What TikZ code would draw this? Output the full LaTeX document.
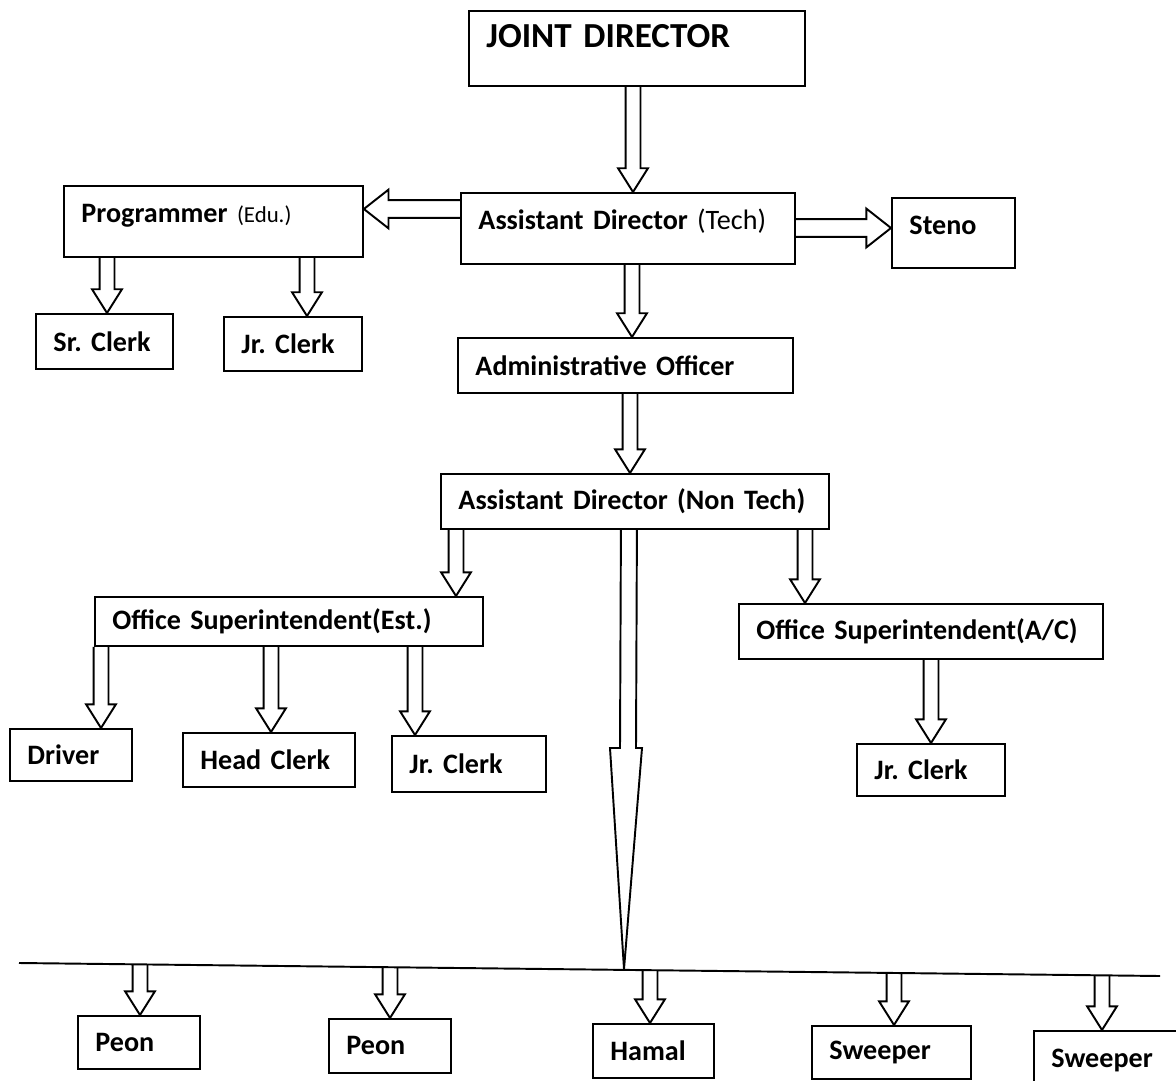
\documentclass[tikz,border=0pt]{standalone}
\usepackage{fontspec}
\setmainfont{Carlito}
\usetikzlibrary{calc}
\frenchspacing
\tikzset{every picture/.style={x=0.02cm,y=-0.02cm}}
\tikzset{post/.style={draw,line width=1.1pt,anchor=north west,inner xsep=3.5mm,inner ysep=0pt,
    align=left,font=\bfseries\fontsize{16}{19}\selectfont}}
\tikzset{blockarrow/.style={line width=1.1pt,line join=miter}}
\tikzset{bus line/.style={line width=1.1pt}}
% hollow arrow going down at x = #1
\newcommand{\vblock}[3]{%
  \draw[blockarrow] let \p1=(#1,0), \p2=#2, \p3=#3 in
    (\x1-4.25pt,\y2) -- (\x1-4.25pt,\y3+13.5pt) -- (\x1-8.5pt,\y3+13.5pt) -- (\x1,\y3)
    -- (\x1+8.5pt,\y3+13.5pt) -- (\x1+4.25pt,\y3+13.5pt) -- (\x1+4.25pt,\y2);}
% hollow arrow going sideways at y = #1
\newcommand{\hblock}[3]{%
  \draw[blockarrow] let \p1=(0,#1), \p2=#2, \p3=#3, \n1={sign(\x3-\x2)} in
    (\x2,\y1+5pt) -- ({\x3-(\n1)*14pt},\y1+5pt) -- ({\x3-(\n1)*14pt},\y1+11pt) -- (\x3,\y1)
    -- ({\x3-(\n1)*14pt},\y1-11pt) -- ({\x3-(\n1)*14pt},\y1-5pt) -- (\x2,\y1-5pt);}

\begin{document}
\begin{tikzpicture}
  \useasboundingbox[fill=white] (0,0) rectangle (1176,1081);

  \node[post,text width=60.2mm,minimum height=15mm,text depth=5mm,font=\bfseries\fontsize{20}{24}\selectfont] (jd) at (468,10) {JOINT DIRECTOR};
  \node[post,text width=59.8mm,minimum height=14.2mm,text depth=3.6mm] (adt) at (460,192) {Assistant Director {\mdseries(Tech)}};
  \node[post,text width=52.8mm,minimum height=14.2mm,text depth=3.4mm] (prog) at (63,185) {Programmer {\mdseries\fontsize{13}{16}\selectfont(Edu.)}};
  \node[post,text width=17.6mm,minimum height=14mm,text depth=3.2mm] (steno) at (891,197) {Steno};
  \node[post,text width=20.4mm,minimum height=11mm] (srclerk) at (35,313) {Sr. Clerk};
  \node[post,text width=20.6mm,minimum height=10.8mm] (jrclerkA) at (223,316) {Jr. Clerk};
  \node[post,text width=60mm,minimum height=11mm] (ao) at (457,337) {Administrative Officer};
  \node[post,text width=70.6mm,minimum height=11mm] (adnt) at (440,473) {Assistant Director (Non Tech)};
  \node[post,text width=70.6mm,minimum height=9.8mm] (ose) at (94,596) {Office Superintendent(Est.)};
  \node[post,text width=65.8mm,minimum height=11mm] (osa) at (738,603) {Office Superintendent(A/C)};
  \node[post,text width=17.4mm,minimum height=10.4mm] (driver) at (9,728) {Driver};
  \node[post,text width=27.4mm,minimum height=10.8mm] (headclerk) at (182,732) {Head Clerk};
  \node[post,text width=23.8mm,minimum height=11.2mm] (jrclerkB) at (391,735) {Jr. Clerk};
  \node[post,text width=22.6mm,minimum height=10.4mm] (jrclerkC) at (856,743) {Jr. Clerk};
  \node[post,text width=17.4mm,minimum height=10.6mm] (peonA) at (77,1015) {Peon};
  \node[post,text width=17.4mm,minimum height=10.8mm] (peonB) at (328,1018) {Peon};
  \node[post,text width=17.2mm,minimum height=10.8mm] (hamal) at (592,1023) {Hamal};
  \node[post,text width=24.8mm,minimum height=10.6mm] (sweeperA) at (811,1025) {Sweeper};
  \node[post,text width=29mm,minimum height=12mm] (sweeperB) at (1033,1030) {Sweeper};

  \vblock{633}{(jd.south)}{(adt.north)}
  \vblock{632}{(adt.south)}{(ao.north)}
  \vblock{630}{(ao.south)}{(adnt.north)}
  \hblock{209}{(adt.west)}{(prog.east)}
  \hblock{228}{(adt.east)}{(steno.west)}
  \vblock{107}{(prog.south)}{(srclerk.north)}
  \vblock{307}{(prog.south)}{(jrclerkA.north)}
  \vblock{456}{(adnt.south)}{(ose.north)}
  \vblock{805}{(adnt.south)}{(osa.north)}
  \vblock{101}{(ose.south)}{(driver.north)}
  \vblock{271}{(ose.south)}{(headclerk.north)}
  \vblock{415}{(ose.south)}{(jrclerkB.north)}
  \vblock{931}{(osa.south)}{(jrclerkC.north)}

  \coordinate (busL) at (19,963);
  \coordinate (busR) at (1160,976);
  \coordinate (hub) at (624,969);
  \draw[bus line] (busL) -- (busR);
  \draw[blockarrow] ($(adnt.south)+(-14,0)$) -- (620,748) -- (610,748) -- (hub)
    -- (642,748) -- (636,748) -- ($(adnt.south)+(2,0)$);

  \vblock{140}{($(busL)!(peonA.north)!(busR)$)}{(peonA.north)}
  \vblock{390}{($(busL)!(peonB.north)!(busR)$)}{(peonB.north)}
  \vblock{650}{($(busL)!(hamal.north)!(busR)$)}{(hamal.north)}
  \vblock{894}{($(busL)!(sweeperA.north)!(busR)$)}{(sweeperA.north)}
  \vblock{1102}{($(busL)!(sweeperB.north)!(busR)$)}{(sweeperB.north)}
\end{tikzpicture}
\end{document}
